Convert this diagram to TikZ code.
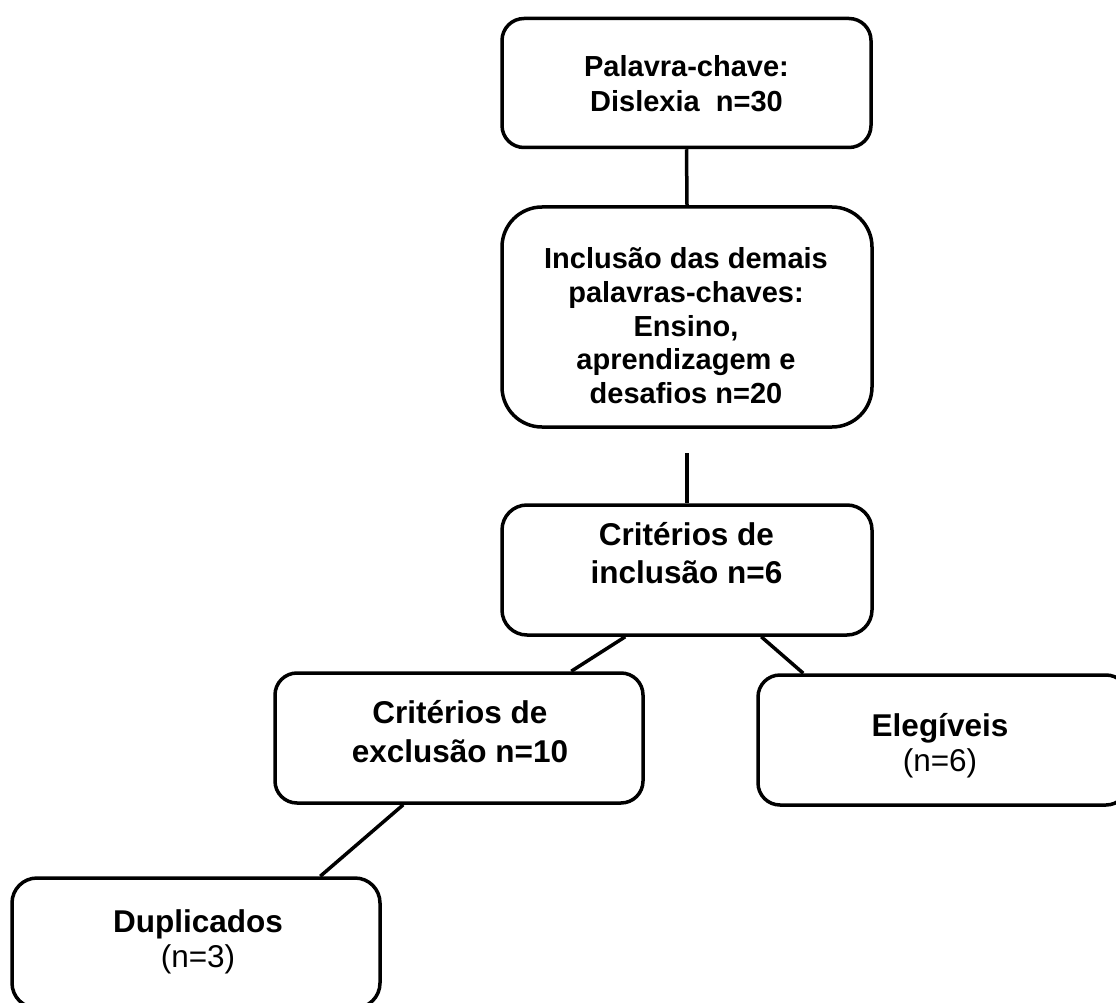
\documentclass[tikz,border=0pt]{standalone}
\usepackage{fontspec}
\setmainfont{Liberation Sans}
\usetikzlibrary{calc}
\begin{document}
\begin{tikzpicture}[x=1pt,y=-1pt,
  box/.style={draw=black, line width=3.5pt, rounded corners=22pt, inner sep=0pt,
    minimum width=369pt, minimum height=129pt},
  conn/.style={draw=black, line width=3.5pt},
  lblA/.style={anchor=base, inner sep=0pt, font=\bfseries\fontsize{29}{35}\selectfont},
  lblB/.style={anchor=base, inner sep=0pt, font=\bfseries\fontsize{31.5}{38}\selectfont},
  lblR/.style={anchor=base, inner sep=0pt, font=\fontsize{31.5}{38}\selectfont}]
\useasboundingbox (0,0) rectangle (1116,1003);
\clip (0,0) rectangle (1116,1003);

% boxes
\node[box] (b1) at (686.5,83) {};
\node[box, rounded corners=40pt, minimum height=220pt, minimum width=370pt] (b2) at (687,317) {};
\node[box, rounded corners=25pt, minimum height=130pt, minimum width=370pt] (b3) at (687,570) {};
\node[box, minimum height=130pt, minimum width=368pt] (b4) at (459,738) {};
\node[box, minimum height=130pt, minimum width=370pt] (b5) at (943,740) {};
\node[box, rounded corners=25pt, minimum height=130pt, minimum width=368pt] (b6) at (196,943) {};

% texts
\node[lblA] (t1a) at (686.5,77) {Palavra-chave:};
\node[lblA] (t1b) at (686.5,112) {Dislexia\ \ n=30};

\node[lblA] (t2a) at (686,268) {Inclusão das demais};
\node[lblA] (t2b) at (686,302) {palavras-chaves:};
\node[lblA] (t2c) at (686,336) {Ensino,};
\node[lblA] (t2d) at (686,369) {aprendizagem e};
\node[lblA] (t2e) at (686,403) {desafios n=20};

\node[lblB] (t3a) at (686.5,545) {Critérios de};
\node[lblB] (t3b) at (686.5,583) {inclusão n=6};

\node[lblB] (t4a) at (460,723) {Critérios de};
\node[lblB] (t4b) at (460,762) {exclusão n=10};

\node[lblB] (t5a) at (940,736) {Elegíveis};
\node[lblR] (t5b) at (940,771) {(n=6)};

\node[lblB] (t6a) at (198,932) {Duplicados};
\node[lblR] (t6b) at (198,967) {(n=3)};

% connectors
\draw[conn] (b1.south) -- (b2.north);
\coordinate (c2) at (687,453);
\draw[conn] (c2) -- (b3.north);
\draw[conn] ($(b3.south west)+(125,0)$) -- ($(b4.north west)+(298,0)$);
\draw[conn] ($(b3.south west)+(261,0)$) -- ($(b5.north west)+(47,0)$);
\draw[conn] ($(b4.south west)+(130,0)$) -- ($(b6.north west)+(310,0)$);
\end{tikzpicture}
\end{document}
